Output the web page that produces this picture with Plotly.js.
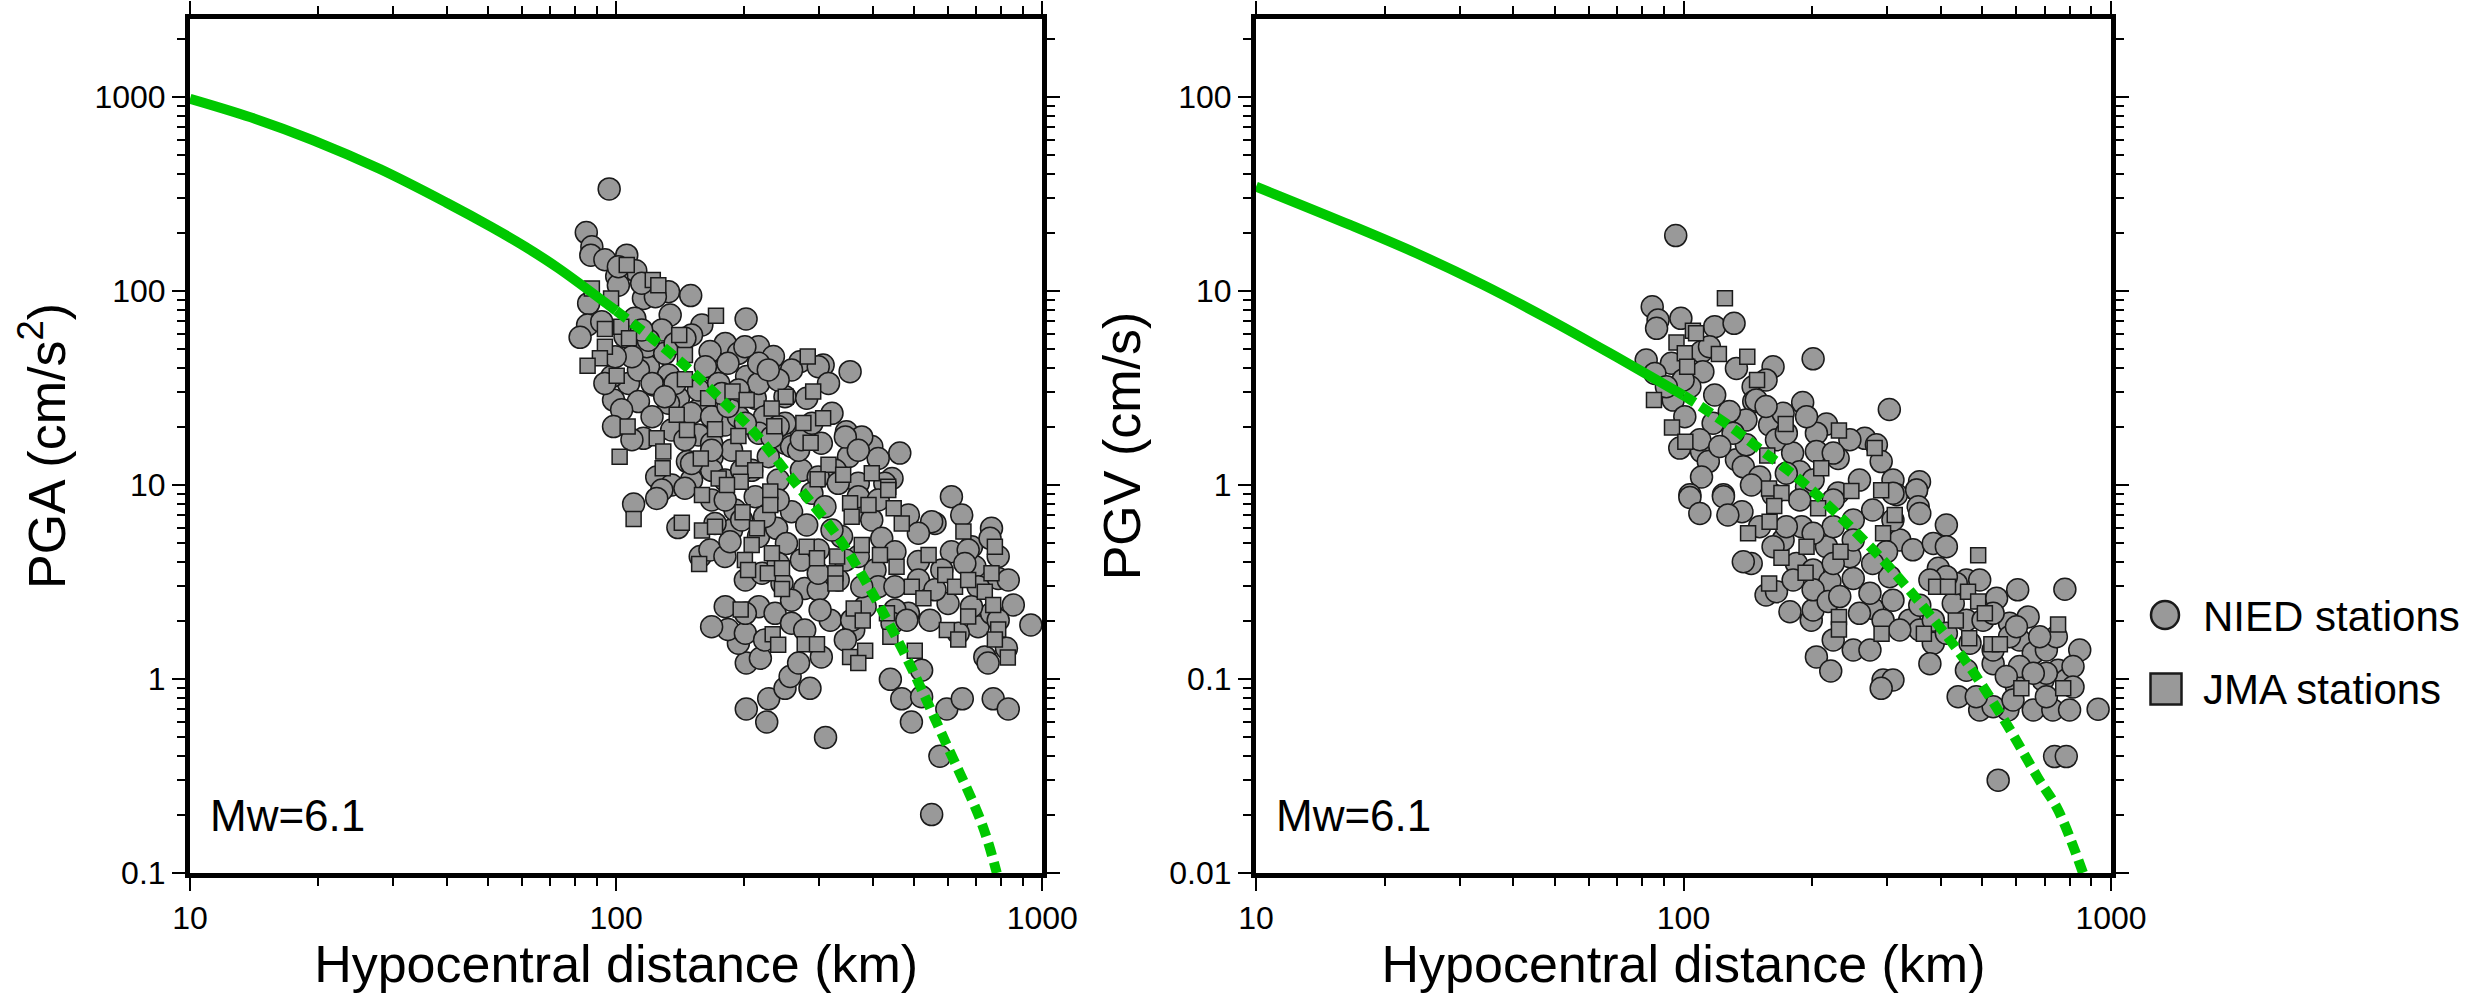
<!DOCTYPE html>
<html><head><meta charset="utf-8">
<script src="https://cdn.plot.ly/plotly-3.0.1.min.js"></script>
<style>html,body{margin:0;padding:0;background:#fff}</style>
</head><body>
<div id="chart" style="width:2481px;height:993px"></div>
<script>
const FONT = 'Liberation Sans, Arial, Helvetica, sans-serif';

// ---------- tick labels ----------
const distTickVals = [10, 100, 1000];
const distTickText = ['10', '100', '1000'];
const pgaTickVals = [0.1, 1, 10, 100, 1000];
const pgaTickText = ['0.1', '1', '10', '100', '1000'];
const pgvTickVals = [0.01, 0.1, 1, 10, 100];
const pgvTickText = ['0.01', '0.1', '1', '10', '100'];

// ---------- PGA : NIED stations (circles) ----------
const pgaNiedDist = [
96.3,85.1,87.7,87.2,94.1,105.9,111.2,100.3,101.2,115.9,
132.7,149.6,86.2,85.7,82.3,133.9,158.9,201.8,180.3,215.8,
233.9,166.1,193.6,270,306,354,119.1,132.7,169,202.4,
106.9,122.4,98.6,112.8,103,140,156,212,249,280,
321,98.6,115.9,135,156,180,249,303,347,398,
463,351,412,147,168,124.5,135,444,92.5,110.6,
104.9,118,128,150.3,97.7,223,193.6,249,377,132.7,
150,167.5,183,216,193.6,240,216,258,227.5,186.6,
167.5,150.3,240,272,327,370,112.8,130,108.9,119,
114.8,99.5,94.1,123.6,114.8,101.2,162,183,258,298,
268,208,180,145,167.5,201,232,121.4,108.9,137.5,
156,174,240,216,137.5,109.9,128,124.5,139.6,157.5,
166,180,186.6,185,215.8,238,258,280,251,272,
298,201,220,245,277,298,332,338,377,398,
420,451,405,412,485,560,612,647,760,612,
682,512,581,788,695,601,485,451,545,855,
940,733,746,824,707,635,444,521,440,468,
521,597,649,767,832,493,575,550,310,202,
228,225.6,249,285,256,268,202,218,193.6,183,
201,223,303,318,301,361,384,481,550,754,
670,788,707,760,216,236,258,357,370,345,
451,170.6,190,212,240,288,332,427,370,167.5,
145,180.3,197,223,309,321,298,240,377,412,
512,512,658,832,682,788,560,180.3,201,167.5,
258,277,345,145,200.5,227.5,298,315,345,370,
272,288,177,121.4,130,167.5,150.3,197];
const pgaNiedVal = [
336,200,169,153,145,153,127,119,107,91.6,
99.2,94.7,86.3,66.8,57.7,75.2,66.8,71.7,53.7,51.6,
45.9,48.7,47.7,43.2,41.5,38.4,40.7,36.9,38.4,36.2,
33.4,32.8,27.4,26.9,24.4,28,24.4,28,28.5,28,
23.4,20,17.4,19.2,18.1,20.4,16.4,16.4,18.8,15.8,
14.6,14,13.7,13.2,14,11,10,10.8,69.5,72.3,
58.2,51.6,63,59.3,36.2,22.5,22.5,20.8,17.7,26.4,
23.4,22.5,25.4,33.4,30.9,20,18.5,15.8,14,15.1,
11.9,10.6,10.6,11.9,11.9,10.2,39.2,47.7,45.8,55.8,
63,45.8,33.4,93.5,109.6,133.4,40.7,42.4,39.2,11,
15.1,11.9,10.6,17.1,16.4,20.8,17.7,22.5,17.1,33.4,
30.9,33.4,34.8,42.4,53.7,7.97,9.42,8.53,6.03,4.28,
4.62,4.28,5.86,5.1,5.42,5.98,7.29,6.22,5,4.1,
4.62,3.24,3.51,3.11,2.93,2.88,3.24,5.42,7.43,6.61,
5.31,4.53,3.65,2.99,7,6.34,8.71,7,5.98,4.53,
4.81,4.03,3.65,3.3,3.79,2.45,2.18,2.27,2.01,2.41,
1.9,1.3,1.21,1.44,1.86,1.72,1.94,1.11,0.996,0.79,
0.81,0.7,0.79,0.79,0.7,0.6,0.4,0.2,0.5,0.7,
0.79,0.6,0.895,0.895,1.03,1.21,1.21,1.28,1.53,1.8,
1.72,1.59,1.3,2.01,2.27,1.79,2.36,2.01,6.47,5.31,
4.62,4.28,2.99,2.18,2.36,2.18,2.55,2.01,4.28,4.1,
2.99,6.34,7.43,8.71,8.37,9.06,10.2,10.2,8.71,8.37,
9.62,8.37,6.61,6.87,7.73,5.86,3.51,3.94,2.99,8.37,
5.64,3.24,3.94,3.24,2.36,2.01,2.88,2.36,2.18,1.86,
1.94,1.79,1.59,57,51.6,39.2,40.7,33.4,17.7,15.1,
17.1,20.8,29.6,33.4,28.5,15.1,12.9,11.9];

// ---------- PGA : JMA stations (squares) ----------
const pgaJmaDist = [
105.9,121.9,125.6,87.7,97.3,171.5,94.1,102.8,107.2,140.6,
94.1,91.6,85.7,145,100.3,145,281.6,187.5,202.4,250,
290,164.4,138.7,231.7,306,275,235,106.4,146.6,170.6,
193.6,124.5,286,129,101.9,158,199,315,128.6,212,
341,398,297,174,196,435,
109.9,142.6,159,182,159,170.6,156.6,198,230,230,
214,208,232,200.5,204,227,245,280,296,330,
327,327,245,196,233,240,277,296,361,379,
440,354,384,370,502,494,526,455,416,377,
354,357,391,435,448,468,541,592,624,670,
733,760,774,653,767,670,597,635,788,774,
830,432];
const pgaJmaVal = [
136,114,107,103,91.6,74.6,63.7,65.5,57,59.3,
51.6,45,41.2,46.8,36.6,35.1,45.9,30.3,27.4,28.5,
30.3,28,23,24.8,22.1,20.9,20.1,20,19.2,19.4,
17.9,17.4,16.5,14.9,14,13.7,13.7,12.7,12.2,11.9,
11.3,11.5,10.7,10.8,10.4,9.8,
6.68,6.39,8.87,10,5.82,6.1,3.92,7.23,9.25,7.89,
5.98,4.91,4.45,4.1,3.65,3.51,3.72,4.81,4.19,4.28,
3.51,3.11,2.91,2.28,1.7,1.5,1.51,1.51,2.31,2,
1.65,1.3,1.4,1.21,1.4,2.99,2.61,3.79,4.36,4.91,
8.05,6.87,7.89,9.42,7.59,6.34,4.36,3.44,2.99,3.24,
2.82,3.51,4.81,5.75,2.41,2.1,1.79,1.6,1.8,1.6,
1.29,2.18];

// ---------- PGV : NIED stations (circles) ----------
const pgvNiedDist = [
95.9,84.5,87.2,86.5,98.6,118.3,131.3,81.8,93.7,85.7,
110.2,115,133,162,201,111,103.5,118.3,94.6,145.5,
156,146,190,303,100.7,117.3,140,159,171,216,
204.6,265.5,282.6,245,98,110.2,114.3,133,140.3,165,
180,204.6,230,290,110.2,138,150.7,144.2,187,309,
356.5,350.6,103.5,124,230,315,162,128,148,99.8,
156,174,194,224,258,194,130.6,91.2,109.2,121.6,
174,201,
103.5,109.2,124,137,127,144,138,156,165,177.4,
199,201,189,171,162,183.7,201,220,201,218,
224,204.6,221,249.5,273,277,249.5,216,245,273,
303.5,309,320.6,344,309,277,309,351,354,384,
412,394.6,338,357,384,377,357,427.6,459,468,
459,439,493,574,544.6,738,786,459,493,540,
605,780,640,611,530,658,706,845,752,693,
601,658,731,800,933,786,530,412,298.5,745,
579,530,174,224,249.5,357,579,293,309,290,
150.7,187,224,201,249.5,277,224,180.5,232,258,
293,320.6,434.5,502,601,681,815,611,706,590,
484,412,377,384,530,412,658,706,569,815];
const pgvNiedVal = [
19.3,8.3,7.08,6.42,7.23,6.55,6.81,4.41,4.24,3.76,
4.86,5.16,3.99,4.07,4.47,3.84,3.21,2.91,2.74,3.21,
3.48,2.69,2.66,2.45,2.25,2.08,2.16,2.04,2.34,2.06,
1.85,1.74,1.61,1.71,1.55,1.49,1.32,1.35,1.61,1.71,
1.46,1.49,1.37,1.32,1.1,1.24,1.1,1,1.17,1.06,
1.04,0.94,0.89,0.89,0.91,0.89,0.89,2.39,2.74,3.48,
2.54,1.85,2.25,1.46,1.06,0.98,1.85,3.21,1.71,1.58,
1.15,1.06,
0.863,0.714,0.871,0.729,0.7,0.394,0.402,0.271,0.282,0.222,
0.201,0.227,0.61,0.521,0.481,0.394,0.365,0.318,0.288,0.251,
0.159,0.13,0.11,0.141,0.141,0.231,0.33,0.481,0.427,0.277,
0.337,0.255,0.521,0.463,0.66,0.743,0.906,0.941,0.773,0.5,
0.622,0.372,0.201,0.179,0.153,0.12,0.24,0.245,0.201,0.153,
0.111,0.0811,0.0692,0.0692,0.0301,0.0398,0.0398,0.324,0.324,0.261,
0.288,0.29,0.209,0.159,0.12,0.136,0.141,0.141,0.111,0.0988,
0.0913,0.0692,0.0692,0.0692,0.0698,0.0988,0.072,0.481,0.453,0.165,
0.194,0.141,0.61,0.61,0.66,0.714,0.165,0.0988,0.0988,0.0895,
0.61,0.838,0.838,0.564,0.521,0.394,0.394,0.324,0.266,0.218,
0.201,0.179,0.311,0.201,0.186,0.165,0.116,0.116,0.107,0.078,
0.081,0.337,0.324,0.201,0.218,0.172,0.107,0.081,0.103,0.091];

// ---------- PGV : JMA stations (squares) ----------
const pgvJmaDist = [
125,96.3,105.2,107,100.7,102,121,141,148.6,85.3,
94,101,173.4,231,280,157,210,158.5,169.5,247,
290,163,159,141.6,169.5,194,193,158.6,206.5,312,
293,233,231,231,290.6,365,390,415.6,463,489,
489,433.5,466,525,549.6,752,617,773,507];
const pgvJmaVal = [
9.17,5.42,6.23,6.05,4.77,4.07,4.73,4.58,3.48,2.74,
1.98,1.67,2.06,1.91,1.55,1.42,1.22,0.96,0.91,0.93,
0.94,0.78,0.647,0.564,0.422,0.481,0.353,0.311,0.759,0.7,
0.564,0.453,0.209,0.18,0.171,0.171,0.299,0.299,0.282,0.251,
0.435,0.2,0.162,0.151,0.151,0.191,0.0895,0.0895,0.218];

// ---------- attenuation curves ----------
const pgaCurveDist = [10, 13.9, 19.4, 27.9, 40, 50.9, 61.2, 73.2, 100];
const pgaCurveVal  = [980, 785, 600, 425, 285, 214, 169, 131, 79];
const pgaDashDist  = [100, 125.7, 150.5, 180.2, 211.8, 249, 267.7, 335.4, 405.2, 485, 591, 721, 782];
const pgaDashVal   = [79, 53.7, 38.4, 26.4, 18.5, 11.9, 9.8, 5.21, 2.61, 1.23, 0.479, 0.18, 0.1];

const pgvCurveDist = [10, 16.6, 23.8, 34.0, 48.7, 69.7, 100];
const pgvCurveVal  = [34.5, 21.9, 15.6, 10.75, 7.1, 4.57, 2.9];
const pgvDashDist  = [100, 127.2, 153.6, 185.4, 225.9, 287.8, 366.6, 458, 559.6, 675.6, 752, 860];
const pgvDashVal   = [2.9, 2.04, 1.485, 1.083, 0.728, 0.427, 0.231, 0.1228, 0.0627, 0.0308, 0.0211, 0.01];

// ---------- styles ----------
const GRAY = '#999999';
const EDGE = '#1a1a1a';
const GREEN = '#00c800';

function circles(x, y, xa, ya) {
  return {type:'scatter', mode:'markers', x, y, xaxis:xa, yaxis:ya, name:'NIED stations', showlegend:false,
    marker:{symbol:'circle', size:22, color:GRAY, line:{color:EDGE, width:1.5}}, hoverinfo:'skip'};
}
function squares(x, y, xa, ya) {
  return {type:'scatter', mode:'markers', x, y, xaxis:xa, yaxis:ya, name:'JMA stations', showlegend:false,
    marker:{symbol:'square', size:15, color:GRAY, line:{color:EDGE, width:1.5}}, hoverinfo:'skip'};
}
function curve(x, y, xa, ya, dash) {
  return {type:'scatter', mode:'lines', x, y, xaxis:xa, yaxis:ya, showlegend:false,
    line:{color:GREEN, width:10, dash:dash, shape:'spline', smoothing:1}, hoverinfo:'skip'};
}

const traces = [
  circles(pgaNiedDist, pgaNiedVal, 'x', 'y'),
  squares(pgaJmaDist, pgaJmaVal, 'x', 'y'),
  curve(pgaCurveDist, pgaCurveVal, 'x', 'y', 'solid'),
  curve(pgaDashDist, pgaDashVal, 'x', 'y', '13px,7px'),
  circles(pgvNiedDist, pgvNiedVal, 'x2', 'y2'),
  squares(pgvJmaDist, pgvJmaVal, 'x2', 'y2'),
  curve(pgvCurveDist, pgvCurveVal, 'x2', 'y2', 'solid'),
  curve(pgvDashDist, pgvDashVal, 'x2', 'y2', '13px,7px')
];

function baseAxis() {
  return {
    type:'log', tickmode:'array',
    ticks:'outside', ticklen:13, tickwidth:2, tickcolor:'#000',
    minor:{ticks:'outside', ticklen:8, tickwidth:2, tickcolor:'#000', dtick:'D1'},
    showline:true, linewidth:5, linecolor:'#000', mirror:'ticks',
    showgrid:false, zeroline:false, automargin:false, fixedrange:true,
    tickfont:{family:FONT, size:32, color:'#000'}
  };
}
function xAxis(domain, anchor) {
  return Object.assign(baseAxis(), {
    domain, anchor, range:[1, 3], tickvals:distTickVals, ticktext:distTickText,
    title:{text:'Hypocentral distance (km)', font:{family:FONT, size:52, color:'#000'}, standoff:14}
  });
}
function yAxis(anchor, range, vals, text, title) {
  return Object.assign(baseAxis(), {
    domain:[0, 1], anchor, range, tickvals:vals, ticktext:text,
    title:{text:title, font:{family:FONT, size:52, color:'#000'}, standoff:14}
  });
}

const L = 190, R = 370, T = 19, B = 120;
const W = 2481 - L - R;
const H = 993 - T - B;
function px(v) { return (v - L) / W; }
function py(v) { return (993 - B - v) / H; }

const layout = {
  width:2481, height:993, showlegend:false,
  margin:{l:L, r:R, t:T, b:B, pad:0},
  paper_bgcolor:'#fff', plot_bgcolor:'#fff',
  font:{family:FONT, color:'#000'},
  xaxis: xAxis([0, (1042.3 - L) / W], 'y'),
  yaxis: yAxis('x', [-1, 3.402], pgaTickVals, pgaTickText, 'PGA (cm/s<sup>2</sup>)'),
  xaxis2: xAxis([(1256 - L) / W, 1], 'y2'),
  yaxis2: yAxis('x2', [-2, 2.402], pgvTickVals, pgvTickText, 'PGV (cm/s)'),
  annotations:[
    {text:'Mw=6.1', xref:'x domain', yref:'y domain', x:0.021, y:0.036, xanchor:'left', yanchor:'bottom',
     showarrow:false, font:{family:FONT, size:44, color:'#000'}},
    {text:'Mw=6.1', xref:'x2 domain', yref:'y2 domain', x:0.021, y:0.036, xanchor:'left', yanchor:'bottom',
     showarrow:false, font:{family:FONT, size:44, color:'#000'}},
    {text:'NIED stations', xref:'paper', yref:'paper', x:px(2201), y:py(616.4), xanchor:'left', yanchor:'middle',
     showarrow:false, font:{family:FONT, size:42, color:'#000'}},
    {text:'JMA stations', xref:'paper', yref:'paper', x:px(2201), y:py(689.4), xanchor:'left', yanchor:'middle',
     showarrow:false, font:{family:FONT, size:42, color:'#000'}}
  ],
  shapes:[
    {type:'circle', xref:'paper', yref:'paper', x0:px(2151), x1:px(2179), y0:py(629), y1:py(601),
     fillcolor:GRAY, line:{color:EDGE, width:2.5}},
    {type:'rect', xref:'paper', yref:'paper', x0:px(2150.5), x1:px(2181.5), y0:py(704.5), y1:py(673.5),
     fillcolor:GRAY, line:{color:EDGE, width:2.5}}
  ]
};

Plotly.newPlot('chart', traces, layout, {staticPlot:true, displayModeBar:false});
</script></body></html>
